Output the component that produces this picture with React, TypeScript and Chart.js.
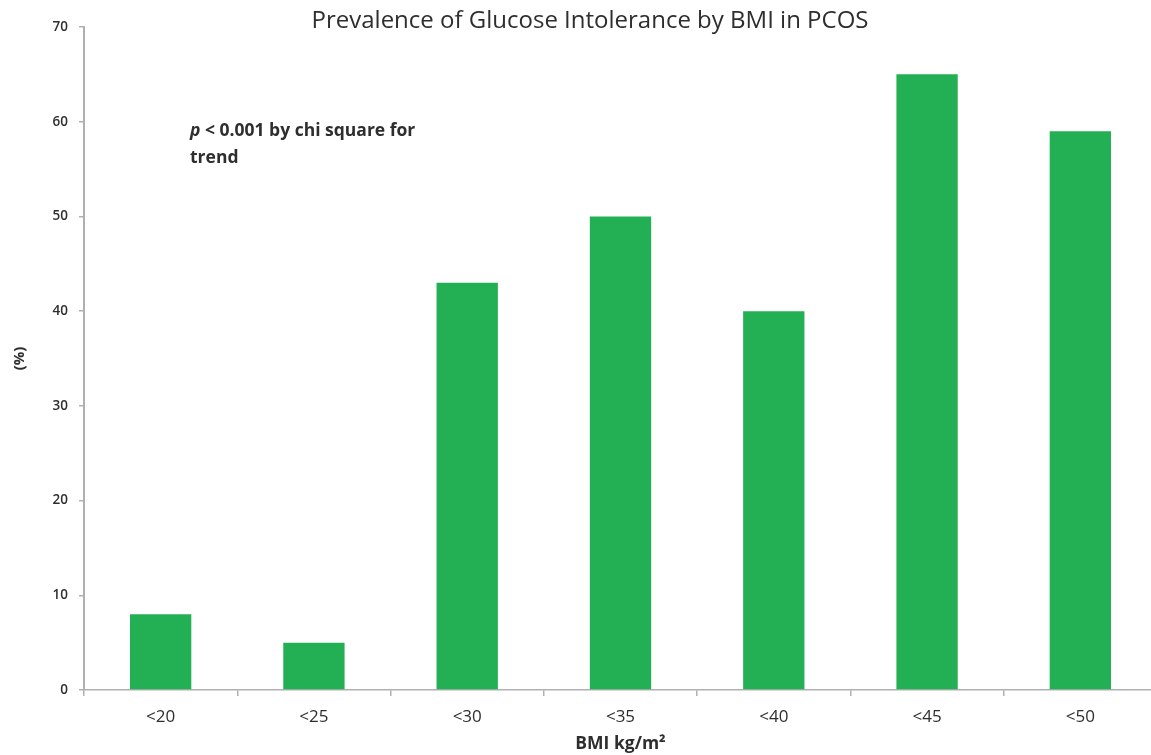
import React, { useEffect, useRef } from "react";
import { Chart, registerables } from "chart.js";

Chart.register(...registerables);

const categories = ["<20", "<25", "<30", "<35", "<40", "<45", "<50"];
const prevalence = [8, 5, 43, 50, 40, 65, 59];
const yTickValues = [0, 10, 20, 30, 40, 50, 60, 70];
const chartTitle = "Prevalence of Glucose Intolerance by BMI in PCOS";
const noteItalic = "p";
const noteLine1 = " < 0.001 by chi square for";
const noteLine2 = "trend";
const xTitle = "BMI kg/m\u00B2";
const yTitle = "(%)";

const FONT = "'Open Sans', 'DejaVu Sans', sans-serif";
const TEXT = "#2e2e2e";
const AXIS = "#b0b0b0";
const BAR = "#23b055";

const textPlugin = {
  id: "textPlugin",
  afterDraw(chart: any) {
    const ctx = chart.ctx;
    const area = chart.chartArea;
    ctx.save();
    ctx.fillStyle = TEXT;
    ctx.textBaseline = "middle";
    // Title
    ctx.font = `normal 24px ${FONT}`;
    ctx.textAlign = "center";
    ctx.fillText(chartTitle, chart.width / 2, 21);
    // Note
    ctx.textAlign = "left";
    const nx = area.left + 106;
    const ny = area.top + 104;
    ctx.font = `italic bold 17.5px ${FONT}`;
    ctx.fillText(noteItalic, nx, ny);
    const w = ctx.measureText(noteItalic).width;
    ctx.font = `bold 17.5px ${FONT}`;
    ctx.fillText(noteLine1, nx + w, ny);
    ctx.fillText(noteLine2, nx, ny + 27);
    ctx.restore();
  },
};

export default function App() {
  const ref = useRef<HTMLCanvasElement | null>(null);
  useEffect(() => {
    if (!ref.current) return;
    const chart = new Chart(ref.current, {
      type: "bar",
      data: {
        labels: categories,
        datasets: [
          {
            data: prevalence,
            backgroundColor: BAR,
            borderWidth: 0,
            barPercentage: 0.4,
            categoryPercentage: 1,
          },
        ],
      },
      options: {
        responsive: false,
        animation: false,
        devicePixelRatio: 1,
        layout: { padding: { top: 27, right: 23, bottom: 0, left: 0 } },
        plugins: {
          legend: { display: false },
          tooltip: { enabled: false },
          title: { display: false },
        },
        scales: {
          x: {
            offset: true,
            grid: {
              offset: true,
              drawOnChartArea: false,
              drawTicks: true,
              tickLength: 6,
              color: AXIS,
              lineWidth: 1.5,
            },
            border: { color: AXIS, width: 1.5 },
            ticks: {
              color: TEXT,
              font: { family: FONT, size: 17 },
              padding: 11,
            },
            title: {
              display: true,
              text: xTitle,
              color: TEXT,
              font: { family: FONT, size: 17.5, weight: "bold" },
              padding: { top: 0, bottom: 0 },
            },
            afterFit(scale: any) {
              scale.height = 65;
            },
          },
          y: {
            min: 0,
            max: 70,
            afterBuildTicks(scale: any) {
              scale.ticks = yTickValues.map((v) => ({ value: v }));
            },
            grid: {
              drawOnChartArea: false,
              drawTicks: true,
              tickLength: 5,
              color: AXIS,
              lineWidth: 1.5,
            },
            border: { color: AXIS, width: 2 },
            ticks: {
              color: TEXT,
              font: { family: FONT, size: 13.5, weight: 600 },
              padding: 11,
            },
            title: {
              display: true,
              text: yTitle,
              color: TEXT,
              font: { family: FONT, size: 15, weight: "bold" },
              padding: { top: 11, bottom: 0 },
            },
            afterFit(scale: any) {
              scale.width = 84;
            },
          },
        },
      },
      plugins: [textPlugin],
    });
    return () => chart.destroy();
  }, []);
  return (
    <div
      style={{
        position: "fixed",
        left: 0,
        top: 0,
        width: 1151,
        height: 755,
        overflow: "hidden",
        background: "#fff",
      }}
    >
      <canvas ref={ref} width={1180} height={755} style={{ width: 1180, height: 755, display: "block" }} />
    </div>
  );
}
